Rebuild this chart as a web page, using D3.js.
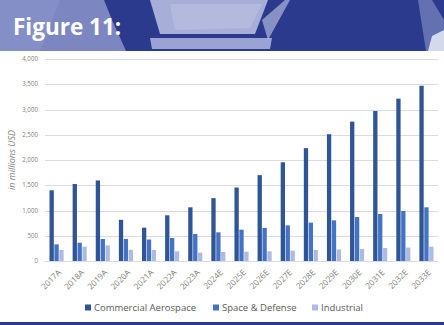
<!DOCTYPE html>
<html>
<head>
  <meta charset="utf-8">
  <title>Figure 11</title>
  <style>
    body { margin: 0; background: #fff; }
    svg { display: block; }
  </style>
</head>
<body>
  <svg width="444" height="325" class="chart"></svg>

  <script src="https://d3js.org/d3.v7.min.js"></script>
  <script type="text/javascript">

  // data (millions USD)
  var years = ["2017A", "2018A", "2019A", "2020A", "2021A", "2022A", "2023A", "2024E", "2025E",
    "2026E", "2027E", "2028E", "2029E", "2030E", "2031E", "2032E", "2033E"];
  var seriesNames = ["Commercial Aerospace", "Space & Defense", "Industrial"];
  var commercial = [1400, 1525, 1595, 815, 660, 905, 1063, 1245, 1455, 1700, 1955, 2235, 2510, 2760, 2970, 3215, 3470];
  var spaceDefense = [330, 362, 436, 436, 425, 455, 535, 568, 620, 655, 705, 760, 805, 870, 930, 990, 1063];
  var industrial = [218, 283, 310, 222, 218, 192, 165, 178, 185, 192, 205, 218, 231, 238, 257, 264, 284];
  var yTicks = [0, 500, 1000, 1500, 2000, 2500, 3000, 3500, 4000];
  var colors = ["#2f5597", "#4472c4", "#adbae3"];

  var svg = d3.select(".chart");

  // ---- header band (decorative) ----
  var head = svg.append("g");
  head.append("rect").attr("x", 0).attr("y", 0).attr("width", 444).attr("height", 51).attr("fill", "#2b3a8c");
  head.append("path").attr("d", "M0,0 L104,0 L112,20 L126,51 L0,51 Z").attr("fill", "#7c87c2");
  head.append("path").attr("d", "M0,0 L60,0 L40,51 L0,51 Z").attr("fill", "#8a94c9").attr("opacity", 0.6);
  head.append("path").attr("d", "M150,0 L268,0 L255,34 L160,34 Z").attr("fill", "#a7afd8");
  head.append("path").attr("d", "M170,4 L262,4 L250,28 L175,30 Z").attr("fill", "#b8bfe0").attr("opacity", 0.7);
  head.append("path").attr("d", "M150,38 L272,38 L270,49 L152,49 Z").attr("fill", "#9aa3d3");
  head.append("path").attr("d", "M262,20 L285,0 L290,0 L268,40 Z").attr("fill", "#c7cce8").attr("opacity", 0.6);
  head.append("path").attr("d", "M418,0 L432,0 L444,20 L444,51 L426,51 Z").attr("fill", "#7c87c2").attr("opacity", 0.7);
  head.append("path").attr("d", "M432,36 L444,30 L444,51 L428,51 Z").attr("fill", "#d5d9ee");
  head.append("text").attr("x", 13).attr("y", 35)
    .attr("font-family", "'Open Sans', 'DejaVu Sans', sans-serif")
    .attr("font-weight", 700).attr("font-size", 22.5).attr("fill", "#fff")
    .text("Figure 11:");

  // bottom strip
  svg.append("rect").attr("x", 0).attr("y", 322).attr("width", 444).attr("height", 3).attr("fill", "#2b3a8c");

  // ---- chart ----
  var plotLeft = 45, plotRight = 438, plotTop = 59, plotBottom = 261;

  var x0 = d3.scaleBand().domain(years).range([plotLeft, plotRight]).paddingInner(0.34).paddingOuter(0.17);
  var x1 = d3.scaleBand().domain(seriesNames).range([0, x0.bandwidth()]).padding(0.12);
  var y = d3.scaleLinear().domain([0, 4000]).range([plotBottom, plotTop]);

  // gridlines
  svg.append("g").selectAll("line").data(yTicks).enter().append("line")
    .attr("x1", plotLeft).attr("x2", plotRight)
    .attr("y1", function(d) { return Math.round(y(d)) + 0.5; })
    .attr("y2", function(d) { return Math.round(y(d)) + 0.5; })
    .attr("stroke", "#dcdcdc").attr("stroke-width", 1);

  // y tick labels
  svg.append("g").selectAll("text").data(yTicks).enter().append("text")
    .attr("x", 38).attr("y", function(d) { return y(d); }).attr("dy", "0.35em")
    .attr("text-anchor", "end")
    .attr("font-family", "'Open Sans', sans-serif").attr("font-size", 6.2).attr("fill", "#7f7f7f")
    .text(function(d) { return d3.format(",")(d); });

  // y axis title
  svg.append("text")
    .attr("transform", "translate(15," + ((plotTop + plotBottom) / 2) + ") rotate(-90)")
    .attr("text-anchor", "middle")
    .attr("font-family", "'Open Sans', sans-serif").attr("font-style", "italic")
    .attr("font-size", 9).attr("fill", "#7f7f7f")
    .text("in millions USD");

  // bars
  var allSeries = [commercial, spaceDefense, industrial];
  var groups = svg.append("g").selectAll("g").data(years).enter().append("g")
    .attr("transform", function(d) { return "translate(" + x0(d) + ",0)"; });

  groups.selectAll("rect")
    .data(function(d, i) {
      return seriesNames.map(function(s, k) { return { key: s, value: allSeries[k][i], k: k }; });
    })
    .enter().append("rect")
    .attr("x", function(d) { return x1(d.key); })
    .attr("y", function(d) { return y(d.value); })
    .attr("width", x1.bandwidth())
    .attr("height", function(d) { return y(0) - y(d.value); })
    .attr("fill", function(d) { return colors[d.k]; });

  // x labels
  svg.append("g").selectAll("text").data(years).enter().append("text")
    .attr("transform", function(d) {
      return "translate(" + (x0(d) + x0.bandwidth() / 2 + 3) + "," + (plotBottom + 10) + ") rotate(-45)";
    })
    .attr("text-anchor", "end").attr("dy", "0.35em")
    .attr("font-family", "'Open Sans', sans-serif").attr("font-size", 8.2).attr("fill", "#7f7f7f")
    .text(function(d) { return d; });

  // legend
  var legendX = [85, 213, 312];
  var legend = svg.append("g").selectAll("g").data(seriesNames).enter().append("g")
    .attr("transform", function(d, i) { return "translate(" + legendX[i] + ",308)"; });
  legend.append("rect").attr("x", 0).attr("y", -3.5).attr("width", 6).attr("height", 6)
    .attr("fill", function(d, i) { return colors[i]; });
  legend.append("text").attr("x", 9).attr("dy", "0.35em")
    .attr("font-family", "'Open Sans', sans-serif").attr("font-size", 9.5).attr("fill", "#595959")
    .text(function(d) { return d; });

  </script>
</body>
</html>
